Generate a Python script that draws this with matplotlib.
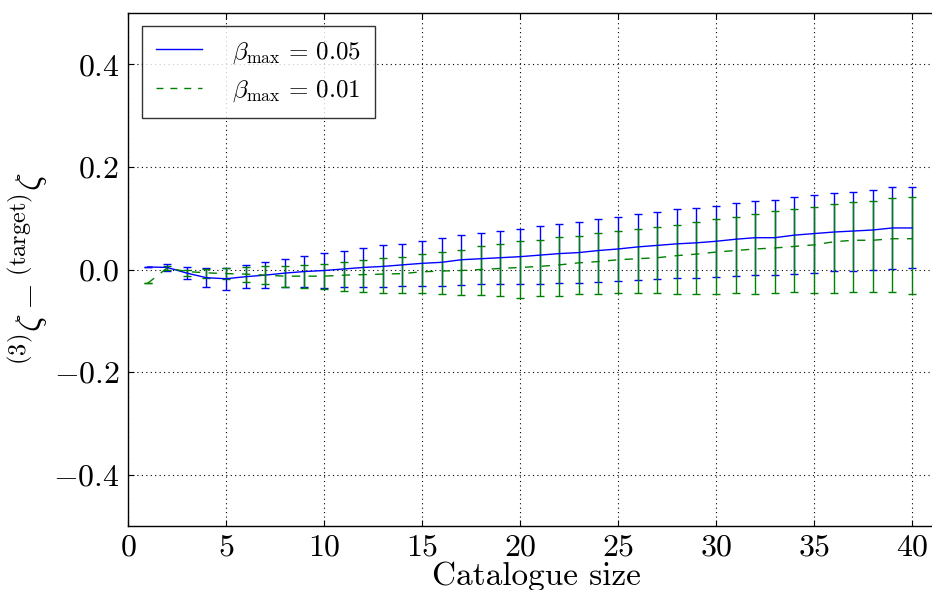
import numpy as np
import matplotlib
matplotlib.use("Agg")
import matplotlib.pyplot as plt
from matplotlib.lines import Line2D

plt.rcParams.update({
    "font.family": "serif",
    "font.serif": ["cmr10"],
    "mathtext.fontset": "cm",
    "axes.formatter.use_mathtext": True,
    "axes.unicode_minus": True,
})

# Catalogue sizes
sizes = np.arange(1, 41)

# beta_max = 0.05 : mean offset and symmetric spread
blue_mean = [0.005, 0.004, -0.007, -0.016, -0.018, -0.014, -0.011, -0.007, -0.004, -0.002,
             0.001, 0.004, 0.006, 0.009, 0.012, 0.014, 0.019, 0.021, 0.023, 0.025,
             0.028, 0.031, 0.033, 0.037, 0.040, 0.044, 0.047, 0.050, 0.052, 0.055,
             0.059, 0.062, 0.062, 0.067, 0.070, 0.073, 0.075, 0.077, 0.081, 0.081]
blue_err = [0.0, 0.007, 0.012, 0.018, 0.021, 0.023, 0.025, 0.028, 0.031, 0.034,
            0.035, 0.038, 0.041, 0.041, 0.044, 0.047, 0.049, 0.050, 0.052, 0.054,
            0.056, 0.057, 0.059, 0.062, 0.062, 0.064, 0.066, 0.067, 0.068, 0.069,
            0.071, 0.072, 0.073, 0.075, 0.076, 0.076, 0.077, 0.078, 0.080, 0.079]

# beta_max = 0.01 : mean offset with lower / upper spread
green_mean = [-0.027, 0.003, -0.004, -0.0065, -0.008, -0.009, -0.011, -0.013, -0.013, -0.013,
              -0.011, -0.010, -0.009, -0.008, -0.0045, -0.003, -0.002, 0.000, 0.002, 0.004,
              0.006, 0.009, 0.013, 0.0155, 0.019, 0.021, 0.023, 0.027, 0.030, 0.034,
              0.037, 0.040, 0.042, 0.045, 0.048, 0.054, 0.057, 0.057, 0.060, 0.060]
green_err_lo = [0.0, 0.003, 0.009, 0.011, 0.011, 0.015, 0.017, 0.021, 0.023, 0.0245,
                0.030, 0.034, 0.037, 0.038, 0.0415, 0.045, 0.048, 0.049, 0.054, 0.059,
                0.057, 0.060, 0.060, 0.064, 0.064, 0.066, 0.069, 0.074, 0.077, 0.081,
                0.083, 0.0875, 0.088, 0.089, 0.093, 0.100, 0.100, 0.101, 0.103, 0.108]
green_err_hi = [0.0, 0.003, 0.004, 0.008, 0.011, 0.014, 0.018, 0.019, 0.021, 0.024,
                0.025, 0.028, 0.031, 0.033, 0.035, 0.038, 0.040, 0.045, 0.048, 0.051,
                0.051, 0.054, 0.053, 0.056, 0.056, 0.058, 0.060, 0.059, 0.063, 0.065,
                0.065, 0.068, 0.072, 0.073, 0.073, 0.073, 0.075, 0.077, 0.080, 0.082]

labels = [r"$\beta_{\rm max}\,=\,0.05$", r"$\beta_{\rm max}\,=\,0.01$"]

fig = plt.figure(figsize=(9.32, 5.9), dpi=100)
ax_w = 816
ax = fig.add_axes([128 / 932, 64 / 590, ax_w / 932, 513 / 590])

ax.errorbar(sizes, blue_mean, yerr=blue_err, color="b", lw=1.0,
            capsize=3, capthick=1.0, elinewidth=1.0)
ax.errorbar(sizes, green_mean, yerr=[green_err_lo, green_err_hi], color="g", lw=1.0,
            ls="--", dashes=(6, 6), capsize=3, capthick=1.0, elinewidth=1.0)

ax.set_xlim(0, 40 * ax_w / 784)
ax.set_ylim(-0.5, 0.5)
ax.set_xticks(np.arange(0, 41, 5))
ax.set_yticks([-0.4, -0.2, 0.0, 0.2, 0.4])
ax.yaxis.set_major_formatter(matplotlib.ticker.FuncFormatter(lambda v, p: r"$%.1f$" % v))
ax.grid(True, color="k", ls=(0, (1, 3)), lw=0.8)
ax.tick_params(direction="in", top=True, right=True, length=4, width=0.8,
               labelsize=23, pad=6)
for s in ax.spines.values():
    s.set_linewidth(1.0)

ax.set_xlabel("Catalogue size", fontsize=24, labelpad=0)
ax.set_ylabel(r"${}^{(3)}\zeta - {}^{(\mathrm{target})}\zeta$", fontsize=25, labelpad=2)

handles = [Line2D([], [], color="b", lw=1.0),
           Line2D([], [], color="g", lw=1.0, ls="--", dashes=(5, 5))]
leg = ax.legend(handles, labels, loc="upper left", borderaxespad=0,
                bbox_to_anchor=(14 / ax_w, 1 - 13 / 513), fontsize=18,
                frameon=True, fancybox=False, handlelength=1.85, borderpad=0.55,
                labelspacing=0.5, handletextpad=1.2)
leg.get_frame().set_edgecolor("k")
leg.get_frame().set_linewidth(1.0)

fig.savefig("out.png", dpi=100)
